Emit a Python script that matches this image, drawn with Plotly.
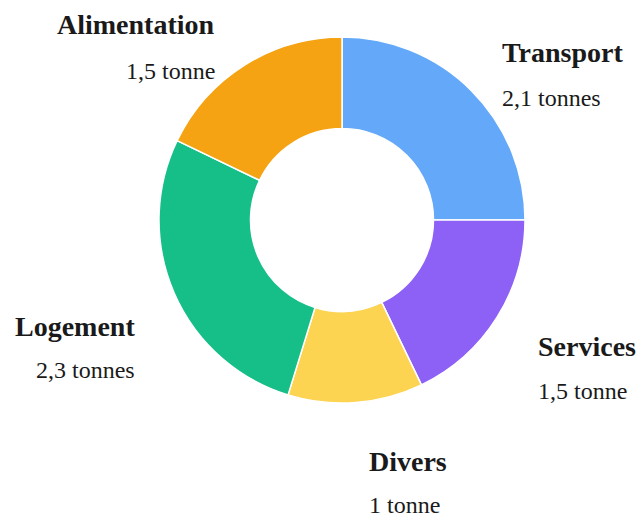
import plotly.graph_objects as go

# Empreinte carbone par poste (tonnes)
categories = ["Transport", "Services", "Divers", "Logement", "Alimentation"]
valeurs = [2.1, 1.5, 1.0, 2.3, 1.5]
etiquettes = ["2,1 tonnes", "1,5 tonne", "1 tonne", "2,3 tonnes", "1,5 tonne"]
couleurs = ["#63A8F9", "#8D61F6", "#FCD451", "#16BE88", "#F5A312"]

W, H = 639, 517

# positions des étiquettes (pixels) : x, y nom, y valeur, ancrage
positions = {
    "Transport": (500, 52, 98, "left"),
    "Services": (536, 346, 391, "left"),
    "Divers": (367, 461, 505, "left"),
    "Logement": (137, 326, 370, "right"),
    "Alimentation": (217, 24, 71, "right"),
}

fig = go.Figure()

cx, cy, r = 342, 220, 183
fig.add_trace(go.Pie(
    labels=categories,
    values=valeurs,
    hole=0.5,
    sort=False,
    direction="clockwise",
    rotation=0,
    textinfo="none",
    hoverinfo="label+value",
    marker=dict(colors=couleurs, line=dict(color="white", width=1.5)),
    domain=dict(x=[(cx - r) / W, (cx + r) / W], y=[1 - (cy + r) / H, 1 - (cy - r) / H]),
))

for cat, lab in zip(categories, etiquettes):
    x, yn, yv, anc = positions[cat]
    fig.add_annotation(x=x / W, y=1 - yn / H, xref="paper", yref="paper",
                       text="<b>" + cat + "</b>", showarrow=False,
                       xanchor=anc, yanchor="middle",
                       font=dict(family="Liberation Serif", size=28, color="#1a1a1a"))
    fig.add_annotation(x=x / W, y=1 - yv / H, xref="paper", yref="paper",
                       text=lab, showarrow=False,
                       xanchor=anc, yanchor="middle",
                       font=dict(family="Liberation Serif", size=24, color="#1a1a1a"))

fig.update_layout(
    width=W,
    height=H,
    showlegend=False,
    paper_bgcolor="white",
    plot_bgcolor="white",
    margin=dict(l=0, r=0, t=0, b=0),
)

fig.write_html("out.html", config={"displayModeBar": False},
               post_script="document.body.style.margin='0';")
